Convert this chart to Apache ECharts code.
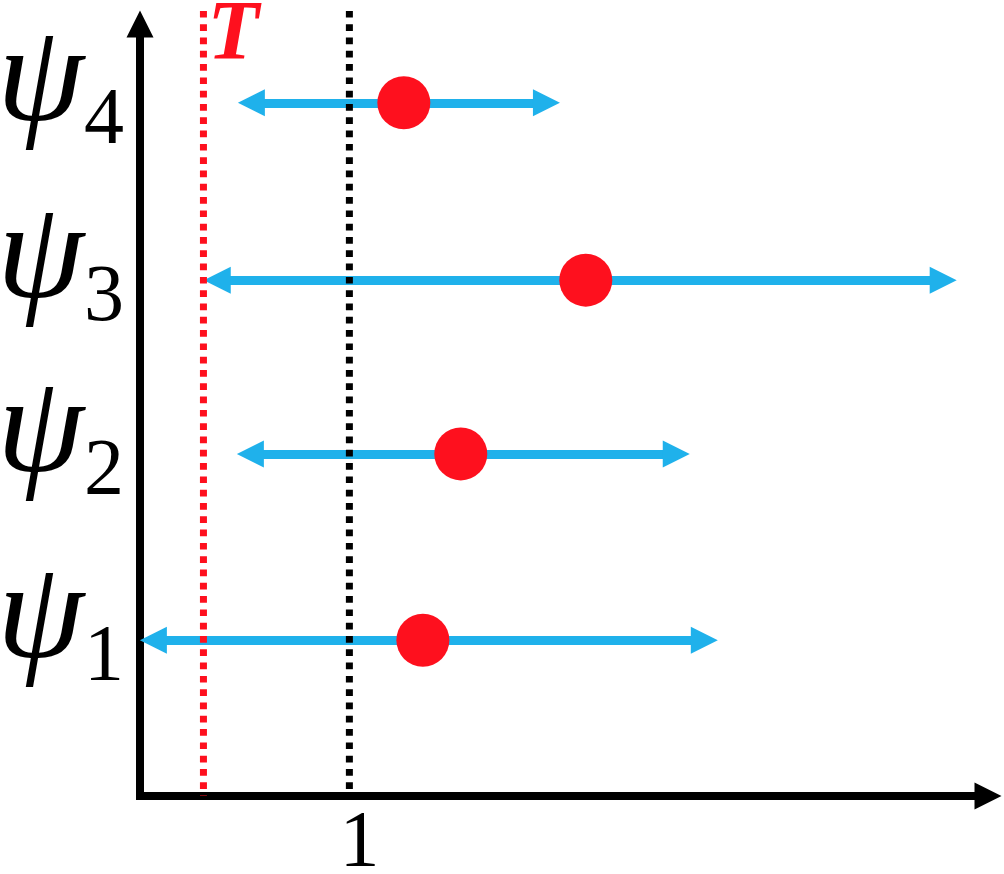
<!DOCTYPE html>
<html><head><meta charset="utf-8">
<script src="https://cdn.jsdelivr.net/npm/echarts@6/dist/echarts.min.js"></script>
<style>html,body{margin:0;padding:0;background:#fff}#c{width:1004px;height:874px}</style>
</head><body><div id="c"></div>
<script>
// ---- data ----
const rowNames = ['1', '2', '3', '4'];          // subscripts of psi
const rowPos = [1, 2.04, 3.01, 4];              // vertical position of each row
const ciLow = [0.064, 0.527, 0.369, 0.532];     // left end of each interval
const ciHigh = [2.695, 2.561, 3.836, 1.941];    // right end of each interval
const estimate = [1.351, 1.532, 2.129, 1.260];  // red dot
const thresholdT = 0.303;                        // red dotted line T
const thresholdLabel = 'T';
const unitValue = 1;                             // black dotted line at 1
const xTickValues = [1];
const xTickLabels = ['1'];

const BLUE = '#1FB1EB', RED = '#FE101E';
const yMin = 0.13, yMax = 4.44, vTop = 4.513;

const chart = echarts.init(document.getElementById('c'), null, {renderer: 'canvas'});

const arrowLines = rowPos.map((y, i) => [{coord: [ciLow[i], y]}, {coord: [ciHigh[i], y]}]);

const option = {
  animation: false,
  backgroundColor: '#fff',
  grid: {left: 140, right: 16, top: 24, bottom: 78, containLabel: false, outerBoundsMode: 'none'},
  xAxis: {
    type: 'value', min: 0, max: 4.05,
    splitLine: {show: false},
    axisTick: {show: false},
    axisLine: {show: true, onZero: false, symbol: ['none', 'triangle'], symbolSize: [27, 27],
      lineStyle: {color: '#000', width: 8, cap: 'square'}},
    axisLabel: {
      customValues: xTickValues,
      formatter: v => xTickLabels[xTickValues.indexOf(v)] ?? '',
      color: '#000', fontFamily: 'Liberation Serif', fontSize: 80, margin: 9,
      padding: [0, 0, 0, 20]
    }
  },
  yAxis: {
    type: 'value', min: yMin, max: yMax,
    splitLine: {show: false},
    axisTick: {show: false},
    axisLine: {show: true, onZero: false, symbol: ['none', 'triangle'], symbolSize: [27, 27],
      lineStyle: {color: '#000', width: 8, cap: 'square'}},
    axisLabel: {
      customValues: rowPos,
      formatter: v => {
        const i = rowPos.indexOf(v);
        return i < 0 ? '' : '{p|ψ}{s|' + rowNames[i] + '}';
      },
      margin: 16,
      padding: [0, 0, 40, 0],
      rich: {
        p: {fontFamily: 'Liberation Serif', fontStyle: 'italic', fontSize: 140, lineHeight: 158, color: '#000'},
        s: {fontFamily: 'Liberation Serif', fontSize: 80, lineHeight: 66, verticalAlign: 'bottom', color: '#000'}
      }
    }
  },
  series: [
    {
      name: 'intervals', type: 'line', data: [], z: 1,
      markLine: {
        silent: true, z: 1, animation: false,
        symbol: ['triangle', 'triangle'], symbolSize: 27,
        lineStyle: {color: BLUE, width: 9, type: 'solid'},
        itemStyle: {color: BLUE},
        label: {show: false},
        emphasis: {disabled: true},
        data: arrowLines
      }
    },
    {
      name: 'T', type: 'line', clip: false, z: 3, symbol: 'none', silent: true,
      lineStyle: {color: RED, width: 7, type: [6.7, 6.6], cap: 'butt'},
      data: [[thresholdT, vTop], [thresholdT, yMin]]
    },
    {
      name: 'one', type: 'line', clip: false, z: 3, symbol: 'none', silent: true,
      lineStyle: {color: '#000', width: 7, type: [6.7, 6.6], cap: 'butt'},
      data: [[unitValue, vTop], [unitValue, yMin]]
    },
    {
      name: 'Tlabel', type: 'scatter', clip: false, z: 5, silent: true,
      symbol: 'rect', symbolSize: 20, itemStyle: {color: 'rgba(255,255,255,0)', opacity: 1},
      label: {show: true, position: 'right', distance: -6, offset: [0, 26], formatter: thresholdLabel,
        opacity: 1, color: RED, fontFamily: 'Liberation Serif', fontStyle: 'italic', fontWeight: 'bold', fontSize: 84},
      emphasis: {disabled: true},
      data: [[thresholdT, vTop]]
    },
    {
      name: 'estimate', type: 'scatter', z: 10, silent: true,
      symbol: 'circle', symbolSize: 53,
      itemStyle: {color: RED, opacity: 1},
      data: estimate.map((x, i) => [x, rowPos[i]])
    }
  ]
};
chart.setOption(option);
</script></body></html>
